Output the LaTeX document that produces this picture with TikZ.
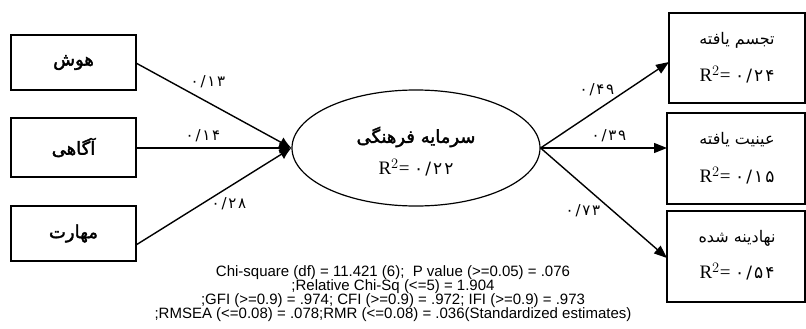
\documentclass[tikz,border=0pt]{standalone}
\usepackage{fontspec}
\setmainfont{Liberation Serif}
\newfontfamily\fa[Script=Arabic]{DejaVu Sans}
\newfontfamily\fanum[Script=Arabic,LetterSpace=12]{DejaVu Sans}
\newfontfamily\fab[Script=Arabic,FakeBold=2]{DejaVu Sans}
\newfontfamily\fitsans{Liberation Sans}
\TeXXeTstate=1
\usetikzlibrary{arrows.meta,shapes.geometric}
\tikzset{
  box/.style={draw,line width=1.8pt},
  coef/.style={font=\fanum\fontsize{15}{17}\selectfont,inner sep=0pt},
  path/.style={line width=1.4pt},
  rtip/.style={-{Triangle[length=13pt,width=10pt]}},
  ttl/.style={font=\fab\fontsize{18}{20}\selectfont,inner sep=0pt},
  rttl/.style={font=\fa\fontsize{16}{18}\selectfont,inner sep=0pt},
  rsq/.style={inner sep=0pt},
}
\newcommand{\rsqv}[1]{\fontsize{19}{21}\selectfont R$^2$= {\fanum\fontsize{17}{19}\selectfont #1}}
\begin{document}
\begin{tikzpicture}[x=1pt,y=-1pt]
\useasboundingbox (0,0) rectangle (806,329);
% left boxes
\draw[box] (11,35) rectangle (136,90);
\draw[box] (11,118) rectangle (136,177);
\draw[box] (11,206) rectangle (136,261);
\node[ttl] (A) at (73.5,62.5) {\beginR هوش\endR};
\node[ttl] (B) at (73.5,147.5) {\beginR آگاهی\endR};
\node[ttl] (C) at (73.5,233.5) {\beginR مهارت\endR};
\coordinate (Ae) at (136,63);
\coordinate (Be) at (136,148);
\coordinate (Ce) at (136,245);
% ellipse
\node[draw,ellipse,line width=1.2pt,minimum width=248pt,minimum height=116pt,inner sep=0pt] (E) at (416,148) {};
\node[ttl] at (416,137) {\beginR سرمایه فرهنگی\endR};
\node[rsq] at (416,168) {\rsqv{۰/۲۲}};
% left paths
\draw[path,-{Latex[length=12pt,width=11pt]}] (Ae) -- (E.west);
\draw[path,-{Latex[length=12pt,width=11pt]}] (Be) -- (E.west);
\draw[path,-{Latex[length=12pt,width=11pt]}] (Ce) -- (E.west);
\node[coef] at (208,82) {۰/۱۳};
\node[coef] at (203,136) {۰/۱۴};
\node[coef] at (229,204) {۰/۲۸};
% right boxes
\draw[box] (669,13) rectangle (805,103);
\draw[box] (667,113) rectangle (805,204);
\draw[box] (667,211) rectangle (805,302);
\node[rttl] (D) at (737,40) {\beginR تجسم یافته\endR};
\node[rsq] at (737,75) {\rsqv{۰/۲۴}};
\node[rttl] (F) at (737,140) {\beginR عینیت یافته\endR};
\node[rsq] at (737,176) {\rsqv{۰/۱۵}};
\node[rttl] (G) at (737,238) {\beginR نهادینه شده\endR};
\node[rsq] at (737,272) {\rsqv{۰/۵۴}};
\coordinate (Dw) at (669,62);
\coordinate (Fw) at (667,148);
\coordinate (Gw) at (667,258);
\draw[path,rtip] (E.east) -- (Dw);
\draw[path,rtip] (E.east) -- (Fw);
\draw[path,rtip] (E.east) -- (Gw);
\node[coef] at (597,90) {۰/۴۹};
\node[coef] at (609,136) {۰/۳۹};
\node[coef] at (583,211) {۰/۷۳};
% fit indices
\node[font=\fitsans\fontsize{15}{14}\selectfont,align=center,inner sep=0pt] (fit) at (393,294)
{Chi-square (df) = 11.421 (6);\ \ P value (>=0.05) = .076\\
;Relative Chi-Sq (<=5) = 1.904\\
;GFI (>=0.9) = .974; CFI (>=0.9) = .972; IFI (>=0.9) = .973\\
;RMSEA (<=0.08) = .078;RMR (<=0.08) = .036(Standardized estimates)};
\end{tikzpicture}
\end{document}
